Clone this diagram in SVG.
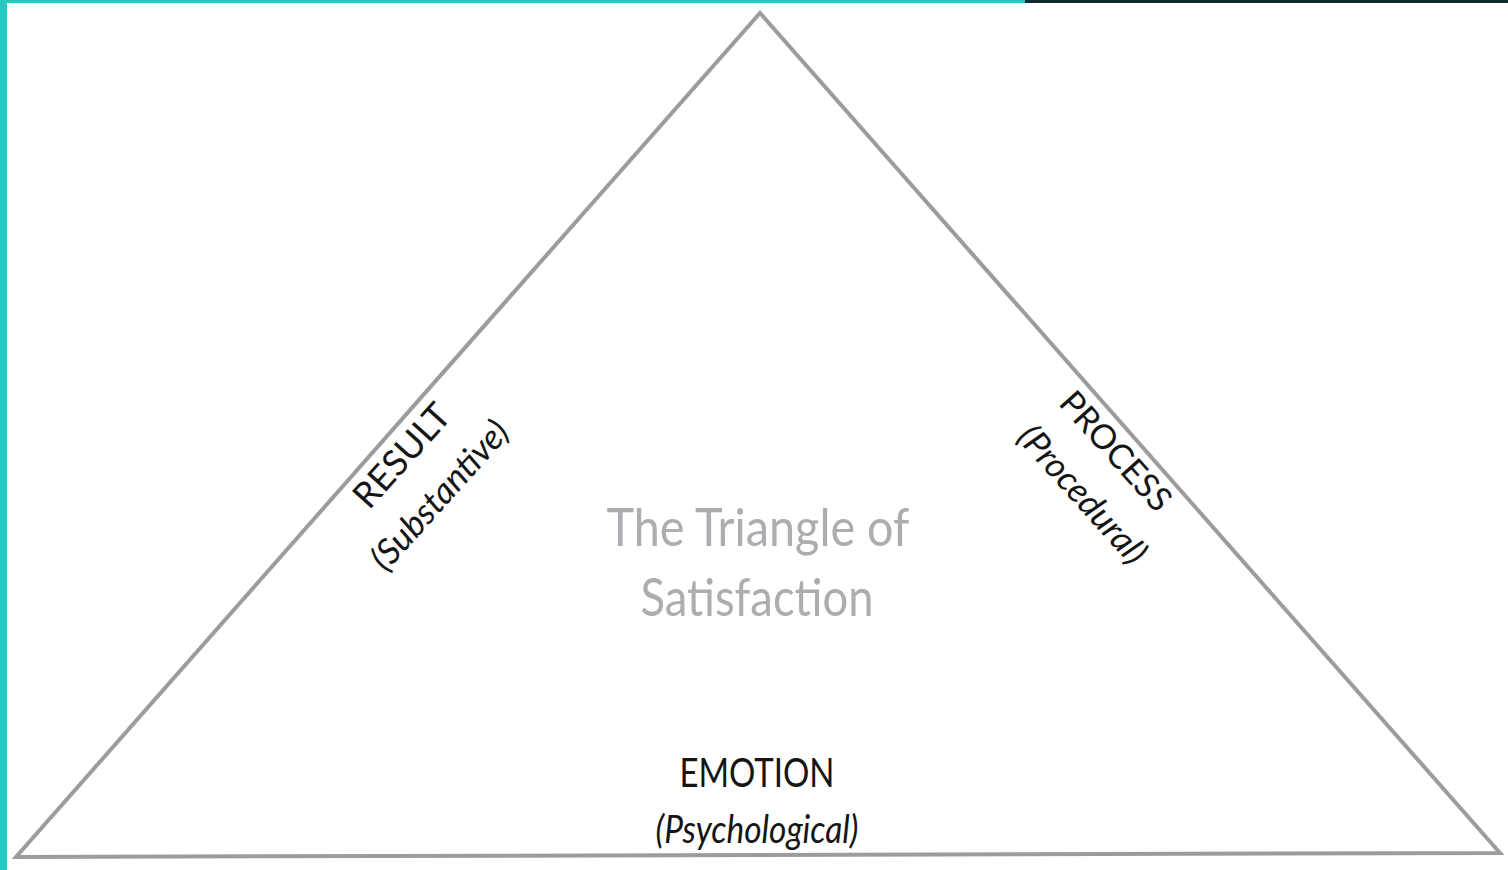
<svg xmlns="http://www.w3.org/2000/svg" width="1508" height="870" viewBox="0 0 1508 870">
<style>
.lbl{font-family:Lato,"Noto Sans","Open Sans",sans-serif;fill:#151515;text-anchor:middle}
.it{font-style:italic}
.title{font-family:Lato,"Noto Sans","Open Sans",sans-serif;fill:#acadb0;text-anchor:middle}
</style>
<rect x="0" y="0" width="1508" height="870" fill="#ffffff"/>
<rect x="0" y="0" width="1025" height="3" fill="#29c8bf"/>
<rect x="1025" y="0" width="483" height="3" fill="#0f2b31"/>
<rect x="0" y="0" width="7" height="870" fill="#29c8bf"/>
<g id="connectors">
<polygon points="760,13 1500,853 16,857" fill="none" stroke="#9c9c9c" stroke-width="4" stroke-linejoin="miter"/>
</g>
<g id="title">
<text class="title" x="758" y="546" font-size="52" textLength="303" lengthAdjust="spacingAndGlyphs">The Triangle of</text>
<text class="title" x="757" y="616" font-size="52" textLength="233" lengthAdjust="spacingAndGlyphs">Satisfaction</text>
</g>
<g id="result">
<g transform="translate(411,464) rotate(-48)">
<text class="lbl" x="0" y="0" font-size="36">RESULT</text>
<text class="lbl it" x="-4" y="54" font-size="35">(Substantive)</text>
</g>
</g>
<g id="process">
<g transform="translate(1107,459) rotate(48)">
<text class="lbl" x="0" y="0" font-size="34">PROCESS</text>
<text class="lbl it" x="10" y="54" font-size="35">(Procedural)</text>
</g>
</g>
<g id="emotion">
<text class="lbl" x="757" y="787" font-size="40" textLength="155" lengthAdjust="spacingAndGlyphs">EMOTION</text>
<text class="lbl it" x="757" y="843" font-size="38" textLength="203" lengthAdjust="spacingAndGlyphs">(Psychological)</text>
</g>
</svg>
